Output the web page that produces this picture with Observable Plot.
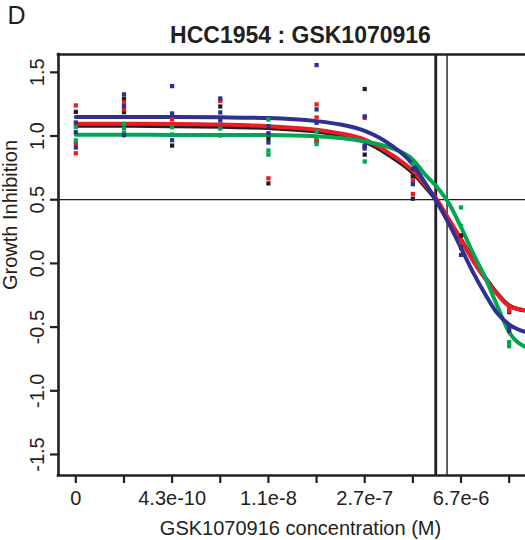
<!DOCTYPE html>
<html><head><meta charset="utf-8">
<script src="https://cdn.jsdelivr.net/npm/d3@7"></script>
<script src="https://cdn.jsdelivr.net/npm/@observablehq/plot@0.6"></script>
<style>body{margin:0;background:#fff}</style>
</head><body><div id="chart"></div>
<script>
// ---- data ----
const doseIndex = [0,1,2,3,4,5,6,7,8,9];
const doseLabels = ["0","","4.3e-10","","1.1e-8","","2.7e-7","","6.7e-6",""];
const yTicks = [-1.5,-1,-0.5,0,0.5,1,1.5];
const yTickLabels = ["-1.5","-1.0","-0.5","0.0","0.5","1.0","1.5"];
const titleText = "HCC1954 : GSK1070916";
const panelLetter = "D";
const xTitle = "GSK1070916 concentration (M)";
const yTitle = "Growth Inhibition";

// replicate measurements: [dose index, growth inhibition]
const blackPoints = [[0,1.19],[1,1.293],[1,1.187],[2,0.925],[3,1.232],[4,0.978],[4,0.628],[5,0.957],[6,1.369],[6,0.917],[6,0.854],[7,0.683],[7,0.508],[8,0.22],[9,-0.382]];
const redPoints = [[0,1.24],[0,0.94],[0,0.865],[1,1.261],[1,1.209],[2,1.13],[3,1.274],[4,0.668],[5,1.248],[5,1.146],[5,0.965],[6,1.142],[7,0.65],[7,0.545],[8,0.165],[9,-0.343],[9,-0.374]];
const greenPoints = [[0,1.07],[0,0.965],[1,1.095],[1,1.06],[1,1.025],[2,1.069],[2,1.012],[3,1.059],[3,1.004],[4,1.13],[4,0.886],[4,0.854],[5,1.04],[5,0.99],[5,0.937],[6,0.8],[7,0.78],[8,0.439],[8,0.295],[9,-0.618],[9,-0.65]];
const bluePoints = [[0,1.106],[0,1.03],[0,0.91],[1,1.327],[1,1.235],[1,1.006],[2,1.392],[2,1.177],[2,0.967],[3,1.295],[3,1.185],[3,1.122],[4,1.077],[4,1.022],[4,0.949],[5,1.557],[5,1.209],[5,1.104],[6,1.154],[6,0.925],[6,0.902],[7,0.74],[7,0.622],[8,0.122],[8,0.067],[9,-0.508],[9,-0.531]];

// fitted curves at these dose positions
const curveX = [0,1,2,3,4,5,5.5,6,6.5,7,7.25,7.5,7.75,8,8.25,8.5,8.75,9,9.36];
const blackCurve = [1.08,1.08,1.077,1.072,1.062,1.035,1.005,0.955,0.85,0.71,0.605,0.49,0.34,0.19,0.03,-0.11,-0.235,-0.33,-0.372];
const redCurve = [1.096,1.096,1.095,1.09,1.077,1.05,1.02,0.972,0.868,0.725,0.618,0.5,0.343,0.185,0.02,-0.12,-0.24,-0.335,-0.37];
const greenCurve = [1.01,1.01,1.009,1.009,1.008,0.998,0.985,0.957,0.912,0.815,0.7,0.6,0.47,0.285,0.08,-0.11,-0.33,-0.54,-0.66];
const blueCurve = [1.15,1.15,1.149,1.147,1.142,1.117,1.09,1.04,0.94,0.776,0.635,0.48,0.31,0.122,-0.07,-0.24,-0.39,-0.48,-0.54];

// IC50 positions (dose index): black, red, blue, green
const ic50 = [7.46, 7.49, 7.475, 7.71];
const threshold = 0.5;

// ---- build ----
const colors = {black:"#231f20", red:"#ed1c24", green:"#00a651", blue:"#2e3192"};
const series = [["black",blackPoints,blackCurve],["red",redPoints,redCurve],["green",greenPoints,greenCurve],["blue",bluePoints,blueCurve]];
const pts = series.flatMap(([name,p]) => p.map(([x,y]) => ({name,x,y})));
const curves = series.flatMap(([name,,c]) => curveX.map((x,i) => ({name,x,y:c[i]})));
const ink = "#231f20";
const xDom = [-0.36, 9.36], yDom = [-1.665, 1.64];

const chart = Plot.plot({
  width: 525, height: 540,
  marginLeft: 58, marginRight: 0, marginTop: 54, marginBottom: 65,
  x: {domain: xDom, range: [58, 526], axis: null},
  y: {domain: yDom, range: [475, 54], axis: null},
  style: {fontFamily: "'Liberation Sans', Arial, sans-serif", fontSize: "20px", color: ink, background: "#fff"},
  marks: [
    Plot.ruleY([threshold], {stroke: ink, strokeWidth: 1.3}),
    Plot.ruleX(ic50, {x: d => d, stroke: ink, strokeWidth: 1.4}),
    Plot.line(curves, {x: "x", y: "y", z: "name", stroke: d => colors[d.name], strokeWidth: 4, curve: "monotone-x", clip: true}),
    Plot.dot(pts, {x: "x", y: "y", fill: d => colors[d.name], symbol: "square", r: 2.4}),
    // frame
    Plot.ruleX([xDom[0]], {stroke: ink, strokeWidth: 2.6, strokeLinecap: "square"}),
    Plot.ruleY([yDom[1]], {stroke: ink, strokeWidth: 2.6, strokeLinecap: "square"}),
    Plot.ruleY([yDom[0]], {stroke: ink, strokeWidth: 2.6, strokeLinecap: "square"}),
    // axes
    Plot.axisX({ticks: doseIndex, tickSize: 8, tickPadding: 7, strokeWidth: 2.2, label: null,
      tickFormat: d => doseLabels[doseIndex.indexOf(d)], fill: ink}),
    Plot.axisY({ticks: yTicks, tickSize: 8, strokeWidth: 2.2, label: null, tickFormat: () => ""}),
    Plot.text(yTicks, {y: d => d, text: (d, i) => yTickLabels[i], frameAnchor: "left", dx: -20.5, rotate: -90,
      textAnchor: "middle", lineAnchor: "middle", fill: ink}),
    // titles
    Plot.text([titleText], {frameAnchor: "top", dx: 8.5, dy: -28, lineAnchor: "top", fontWeight: "bold", fontSize: 23, fill: ink}),
    Plot.text([panelLetter], {frameAnchor: "top-left", dx: -51, dy: -48, textAnchor: "start", lineAnchor: "top", fontSize: 25, fill: ink}),
    Plot.text([xTitle], {frameAnchor: "bottom", dx: 8.5, dy: 45, lineAnchor: "top", fontSize: 20, fill: ink}),
    Plot.text([yTitle], {frameAnchor: "left", dx: -48, dy: -50, rotate: -90, textAnchor: "middle", lineAnchor: "middle", fontSize: 20, fill: ink})
  ]
});
document.getElementById("chart").appendChild(chart);
</script>
</body></html>
